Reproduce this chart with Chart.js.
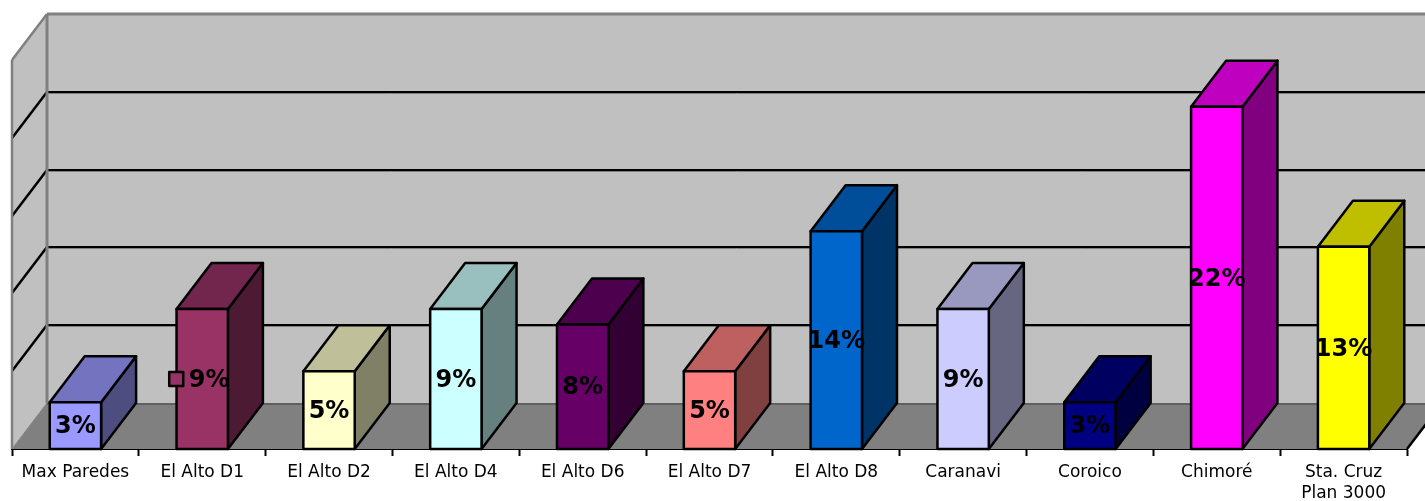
<!DOCTYPE html>
<html>
<head>
<meta charset="utf-8">
<style>
    html, body { margin: 0; padding: 0; background: #fff; }
    canvas { display: block; }
</style>
<script src="https://cdn.jsdelivr.net/npm/chart.js@4"></script>
</head>
<body>
<canvas id="grafico" width="1425" height="501"></canvas>
<script>
const categorie = ["Max Paredes", "El Alto D1", "El Alto D2", "El Alto D4", "El Alto D6", "El Alto D7",
    "El Alto D8", "Caranavi", "Coroico", "Chimoré", ["Sta. Cruz", "Plan 3000"]];
const valori = [3, 9, 5, 9, 8, 5, 14, 9, 3, 22, 13];
const etichette = ["3%", "9%", "5%", "9%", "8%", "5%", "14%", "9%", "3%", "22%", "13%"];
const colori = ["#9999FF", "#993366", "#FFFFCC", "#CCFFFF", "#660066", "#FF8080",
    "#0066CC", "#CCCCFF", "#000080", "#FF00FF", "#FFFF00"];
const tickValori = [0, 5, 10, 15, 20, 25];
const conChiave = ["El Alto D1"]; // solo questa etichetta ha il quadratino

// profondita della finta prospettiva
const dx = 35;
const dy = 46;

function scurisci(hex, f) {
    const n = parseInt(hex.slice(1), 16);
    const r = Math.round((n >> 16 & 255) * f);
    const g = Math.round((n >> 8 & 255) * f);
    const b = Math.round((n & 255) * f);
    return `rgb(${r},${g},${b})`;
}

function poligono(ctx, punti, fill, stroke, lw) {
    ctx.beginPath();
    punti.forEach((p, i) => i ? ctx.lineTo(p[0], p[1]) : ctx.moveTo(p[0], p[1]));
    ctx.closePath();
    if (fill) { ctx.fillStyle = fill; ctx.fill(); }
    if (stroke) { ctx.strokeStyle = stroke; ctx.lineWidth = lw; ctx.stroke(); }
}

function linea(ctx, x1, y1, x2, y2, colore, lw) {
    ctx.beginPath();
    ctx.moveTo(x1, y1);
    ctx.lineTo(x2, y2);
    ctx.strokeStyle = colore;
    ctx.lineWidth = lw;
    ctx.stroke();
}

// pareti, pavimento e griglia
const pareti = {
    id: "pareti",
    beforeDatasetsDraw(chart) {
        const ctx = chart.ctx;
        const a = chart.chartArea;
        const y = chart.scales.y;
        ctx.save();
        poligono(ctx, [[a.left + dx, a.top - dy], [a.right + dx, a.top - dy], [a.right + dx, a.bottom - dy], [a.left + dx, a.bottom - dy]], "#c0c0c0");
        poligono(ctx, [[a.left, a.top], [a.left + dx, a.top - dy], [a.left + dx, a.bottom - dy], [a.left, a.bottom]], "#c0c0c0");
        poligono(ctx, [[a.left, a.bottom], [a.left + dx, a.bottom - dy], [a.right + dx, a.bottom - dy], [a.right, a.bottom]], "#808080");

        tickValori.forEach(v => {
            if (v === 0 || v === 25) return;
            const py = Math.round(y.getPixelForValue(v));
            linea(ctx, a.left + dx, py - dy + 1.5, a.right + dx, py - dy + 1.5, "#808080", 1);
            linea(ctx, a.left + dx, py - dy, a.right + dx, py - dy, "#000", 2);
            linea(ctx, a.left, py, a.left + dx, py - dy, "#000", 2.5);
        });
        linea(ctx, a.left + dx, a.bottom - dy + 1, a.right + dx, a.bottom - dy + 1, "#606060", 2);

        linea(ctx, a.left, a.bottom, a.left, a.top, "#808080", 2.5);
        linea(ctx, a.left, a.top, a.left + dx, a.top - dy, "#808080", 2.5);
        linea(ctx, a.left + dx, a.top - dy, a.right + dx, a.top - dy, "#808080", 3);
        linea(ctx, a.left + dx, a.top - dy, a.left + dx, a.bottom - dy, "#808080", 3);
        linea(ctx, a.left, a.bottom, a.left + dx, a.bottom - dy, "#808080", 1);
        linea(ctx, a.right, a.bottom, a.right + dx, a.bottom - dy, "#000", 2.5);

        // facce laterali e superiori delle colonne
        chart.getDatasetMeta(0).data.forEach((bar, i) => {
            const l = bar.x - bar.width / 2;
            const r = bar.x + bar.width / 2;
            const t = bar.y;
            const b = bar.base;
            ctx.lineJoin = "round";
            poligono(ctx, [[r, t], [r + dx, t - dy], [r + dx, b - dy], [r, b]], scurisci(colori[i], 0.5), "#000", 2.5);
            poligono(ctx, [[l, t], [l + dx, t - dy], [r + dx, t - dy], [r, t]], scurisci(colori[i], 0.75), "#000", 2.5);
        });
        ctx.restore();
    },
    afterDatasetsDraw(chart) {
        const ctx = chart.ctx;
        ctx.save();
        ctx.font = "bold 24px 'DejaVu Sans'";
        ctx.textAlign = "center";
        ctx.textBaseline = "middle";
        chart.getDatasetMeta(0).data.forEach((bar, i) => {
            const cy = (bar.y + bar.base) / 2;
            // contorno del fronte centrato sul valore
            const l = bar.x - bar.width / 2;
            const r = bar.x + bar.width / 2;
            ctx.lineJoin = "round";
            poligono(ctx, [[l, bar.y], [r, bar.y], [r, bar.base], [l, bar.base]], null, "#000", 2.5);
            if (conChiave.includes(categorie[i])) {
                poligono(ctx, [[bar.x - 33, cy - 7], [bar.x - 19, cy - 7], [bar.x - 19, cy + 7], [bar.x - 33, cy + 7]], colori[i], "#000", 2.5);
                ctx.fillStyle = "#000";
                ctx.fillText(etichette[i], bar.x + 7, cy + 1.5);
            } else {
                ctx.fillStyle = "#000";
                ctx.fillText(etichette[i], bar.x, cy + 1.5);
            }
        });
        ctx.restore();
    }
};

new Chart(document.getElementById("grafico").getContext("2d"), {
    type: "bar",
    data: {
        labels: categorie,
        datasets: [{
            data: valori,
            backgroundColor: colori,
            borderWidth: 0,
            categoryPercentage: 1,
            barPercentage: 0.405
        }]
    },
    options: {
        responsive: false,
        animation: false,
        devicePixelRatio: 1,
        layout: { padding: { left: 12, right: 18, top: 60, bottom: 0 } },
        plugins: { legend: { display: false }, tooltip: { enabled: false } },
        scales: {
            x: {
                afterFit(scale) { scale.height = 52; },
                grid: { drawOnChartArea: false, drawTicks: true, tickLength: 7, tickColor: "#000", tickWidth: 2 },
                border: { color: "#000", width: 2 },
                ticks: {
                    color: "#000",
                    padding: 7,
                    maxRotation: 0,
                    autoSkip: false,
                    font: { family: "'DejaVu Sans'", size: 17, lineHeight: 1.18 }
                }
            },
            y: {
                display: false,
                min: 0,
                max: 25,
                ticks: { stepSize: 5 }
            }
        }
    },
    plugins: [pareti]
});
</script>
</body>
</html>
